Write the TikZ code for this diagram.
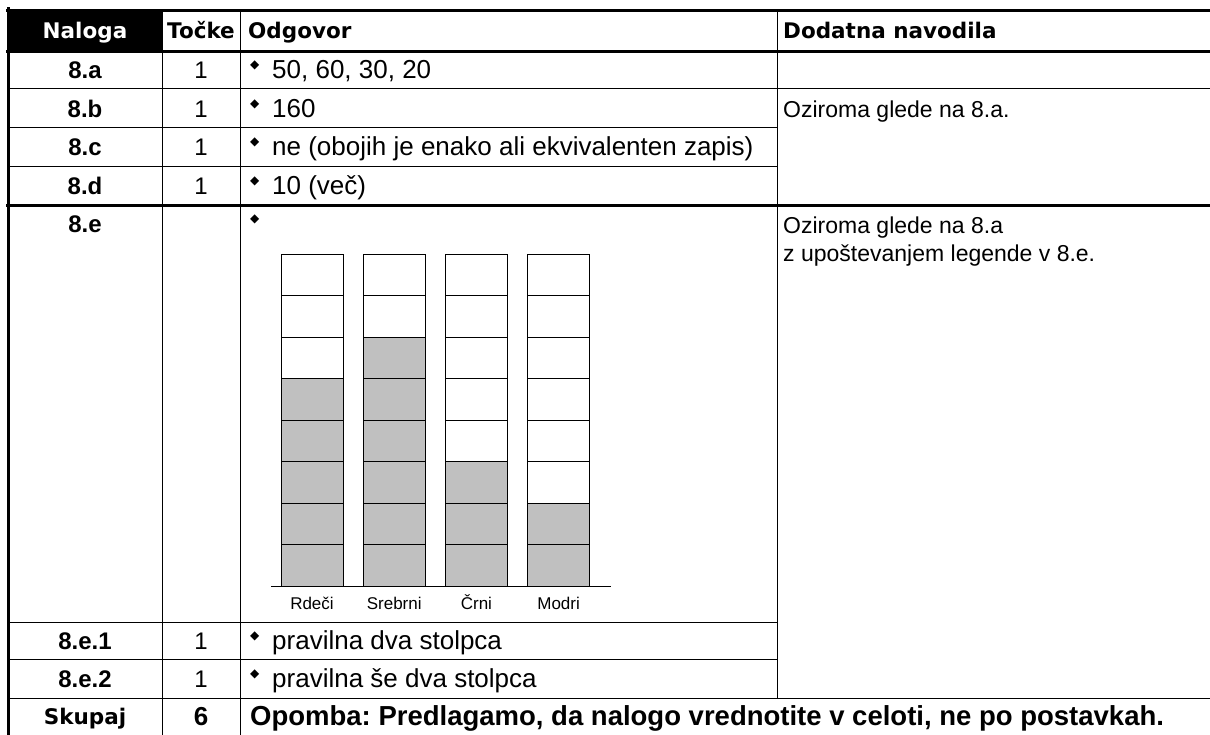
\documentclass[tikz,border=0pt]{standalone}
\usepackage{fontspec}
\setmainfont{Liberation Sans}
\newfontfamily\tezka{DejaVu Sans}
\newfontfamily\znak{DejaVu Sans}
\definecolor{stolpec}{HTML}{C0C0C0}
\newcommand\karo{\makebox[22pt][l]{\raisebox{10pt}{\znak\fontsize{12}{12}\selectfont ◆}}}
\frenchspacing

\begin{document}
\begin{tikzpicture}[x=1pt,y=-1pt,line cap=rect,
  tanka/.style={line width=1pt},
  debela/.style={line width=3pt},
  celica/.style={draw=black,line width=0.8pt},
  glava/.style={anchor=base,inner sep=0pt,font=\tezka\bfseries\fontsize{21.5}{25}\selectfont},
  oznaka/.style={anchor=base,inner sep=0pt,font=\bfseries\fontsize{24}{28}\selectfont},
  tocke/.style={anchor=base,inner sep=0pt,font=\fontsize{24}{28}\selectfont},
  odg/.style={anchor=base west,inner sep=0pt,font=\fontsize{26}{30}\selectfont},
  navod/.style={anchor=base west,inner sep=0pt,font=\fontsize{23}{27}\selectfont},
  legenda/.style={anchor=base,inner sep=0pt,font=\fontsize{17}{20}\selectfont}]
\useasboundingbox (0,0) rectangle (1210,735);
\fill (8,10) rectangle (162,52);
%% header
\node[glava,text=white] (hNal) at (85,39) {Naloga};
\node[glava] (hToc) at (201,39) {Točke};
\node[glava,anchor=base west] (hOdg) at (248,39) {Odgovor};
\node[glava,anchor=base west] (hDod) at (783,39) {Dodatna navodila};
%% 8.a -- 8.d
\node[oznaka] (n8a) at (85,79) {8.a};
\node[tocke] (t8a) at (201,79) {1};
\node[odg] (o8a) at (250,79) {\karo 50, 60, 30, 20};
\node[oznaka] (n8b) at (85,117.5) {8.b};
\node[tocke] (t8b) at (201,117.5) {1};
\node[odg] (o8b) at (250,117.5) {\karo 160};
\node[navod] (d8b) at (783,117.5) {Oziroma glede na 8.a.};
\node[oznaka] (n8c) at (85,156) {8.c};
\node[tocke] (t8c) at (201,156) {1};
\node[odg] (o8c) at (250,156) {\karo ne (obojih je enako ali ekvivalenten zapis)};
\node[oznaka] (n8d) at (85,194.5) {8.d};
\node[tocke] (t8d) at (201,194.5) {1};
\node[odg] (o8d) at (250,194.5) {\karo 10 (več)};
%% 8.e
\node[oznaka] (n8e) at (85,233) {8.e};
\node[odg] (o8e) at (250,233) {\karo};
\node[navod] (d8e1) at (783,234) {Oziroma glede na 8.a};
\node[navod] (d8e2) at (783,262) {z upoštevanjem legende v 8.e.};
\foreach \i/\n/\ime in {0/5/Rdeči,1/6/Srebrni,2/3/Črni,3/2/Modri}{
  \fill[stolpec] ({281+82.2*\i},586) rectangle ++(62,{-41.5*\n});
  \foreach \k in {1,...,7} \draw[celica] ({281+82.2*\i},{254+41.5*\k}) -- ++(62,0);
  \draw[celica] ({281+82.2*\i},254) rectangle ++(62,332);
  \node[legenda] (l\i) at ({312+82.2*\i},609) {\ime};
}
\draw[tanka] (271,586) -- (610,586);
%% 8.e.1, 8.e.2, skupaj
\node[oznaka] (n8e1) at (85,649) {8.e.1};
\node[tocke] (t8e1) at (201,649) {1};
\node[odg] (o8e1) at (250,649) {\karo pravilna dva stolpca};
\node[oznaka] (n8e2) at (85,687.5) {8.e.2};
\node[tocke] (t8e2) at (201,687.5) {1};
\node[odg] (o8e2) at (250,687.5) {\karo pravilna še dva stolpca};
\node[glava] (sk) at (85,724) {Skupaj};
\node[oznaka,font=\bfseries\fontsize{26}{30}\selectfont] (sk6) at (201,725) {6};
\node[odg,font=\bfseries\fontsize{27.5}{31}\selectfont] (opo) at (250,725) {Opomba: Predlagamo, da nalogo vrednotite v celoti, ne po postavkah.};
%% rules
\draw[debela] (7,10.5) -- (1210,10.5);
\draw[debela] (7,51.5) -- (1210,51.5);
\draw[debela] (7,205.5) -- (1210,205.5);
\draw[debela] (8.5,9) -- (8.5,735);
\draw[tanka] (8,89) -- (1210,89);
\draw[tanka] (8,128) -- (777,128);
\draw[tanka] (8,167) -- (777,167);
\draw[tanka] (8,622) -- (777,622);
\draw[tanka] (8,659) -- (777,659);
\draw[tanka] (8,698) -- (1210,698);
\draw[tanka] (162,10) -- (162,735);
\draw[tanka] (240.5,10) -- (240.5,735);
\draw[tanka] (777,10) -- (777,698);
\end{tikzpicture}
\end{document}
